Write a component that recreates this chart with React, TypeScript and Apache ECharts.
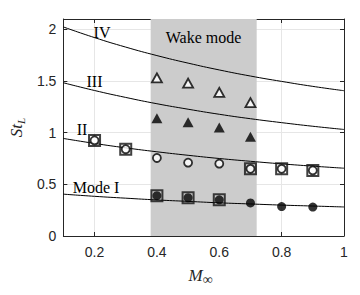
import React, { useEffect, useRef } from "react";
import * as echarts from "echarts";

// Theoretical Rossiter mode curves (read at M = 0.1 ... 1.0)
const machGrid = [0.1, 0.2, 0.3, 0.4, 0.5, 0.6, 0.7, 0.8, 0.9, 1.0];
const modeI = [0.405, 0.384, 0.366, 0.349, 0.335, 0.321, 0.31, 0.299, 0.29, 0.281];
const modeII = [0.944, 0.896, 0.853, 0.815, 0.781, 0.75, 0.723, 0.698, 0.676, 0.656];
const modeIII = [1.483, 1.408, 1.341, 1.28, 1.227, 1.178, 1.135, 1.097, 1.062, 1.031];
const modeIV = [2.023, 1.92, 1.828, 1.746, 1.673, 1.607, 1.548, 1.496, 1.448, 1.406];

// Measured peaks
const wakeMach = [0.4, 0.5, 0.6, 0.7];
const openTriangles = [1.53, 1.48, 1.39, 1.29];
const filledTriangles = [1.14, 1.1, 1.05, 0.96];
const openCircleMach = [0.2, 0.3, 0.4, 0.5, 0.6, 0.7, 0.8, 0.9];
const openCircles = [0.925, 0.84, 0.755, 0.71, 0.7, 0.65, 0.65, 0.635];
const filledCircleMach = [0.4, 0.5, 0.6, 0.7, 0.8, 0.9];
const filledCircles = [0.39, 0.37, 0.35, 0.32, 0.285, 0.28];
const squareMach = [0.2, 0.3, 0.4, 0.5, 0.6, 0.7, 0.8, 0.9];
const squares = [0.925, 0.84, 0.39, 0.37, 0.35, 0.65, 0.65, 0.635];

const wakeRange = [0.38, 0.72];
const xTicks = [0.2, 0.4, 0.6, 0.8, 1];

const zip = (xs: number[], ys: number[]) => xs.map((x, i) => [x, ys[i]]);

const SERIF = "'Liberation Serif', 'DejaVu Serif', serif";
const SANS = "'Liberation Sans', Arial, sans-serif";
const AX = "#262626";

export default function App() {
  const ref = useRef<HTMLDivElement>(null);
  useEffect(() => {
    if (!ref.current) return;
    const chart = echarts.init(ref.current, undefined, { renderer: "svg" });
    const curve = (data: number[]) => ({
      type: "line",
      data: zip(machGrid, data),
      smooth: true,
      showSymbol: false,
      symbol: "none",
      lineStyle: { color: "#000", width: 1 },
      z: 3,
      silent: true,
    });
    const tickCommon = { inside: true, length: 4, lineStyle: { color: AX } };
    chart.setOption({
      animation: false,
      backgroundColor: "#fff",
      grid: { left: 63, right: 16, top: 19, bottom: 59 },
      xAxis: [
        {
          type: "value",
          min: 0.1,
          max: 1,
          position: "bottom",
          axisLine: { lineStyle: { color: AX, width: 1 } },
          axisTick: { ...tickCommon, customValues: xTicks },
          axisLabel: {
            customValues: xTicks,
            color: AX,
            fontFamily: SANS,
            fontSize: 14,
            margin: 9,
          },
          splitLine: { show: true, lineStyle: { color: "#e6e6e6", width: 1 } },
          name: "{a|M}{b|∞}",
          nameLocation: "middle",
          nameGap: 28,
          nameTextStyle: {
            padding: [0, 6, 0, 0],
            rich: {
              a: { fontFamily: SERIF, fontStyle: "italic", fontSize: 17, color: AX },
              b: { fontFamily: SERIF, fontSize: 14, color: AX, padding: [8, 0, 0, 0] },
            },
          },
        },
        {
          type: "value",
          min: 0.1,
          max: 1,
          position: "top",
          axisLine: { show: true, onZero: false, lineStyle: { color: AX, width: 1 } },
          axisTick: { ...tickCommon, customValues: xTicks },
          axisLabel: { show: false },
          splitLine: { show: false },
        },
      ],
      yAxis: [
        {
          type: "value",
          min: 0,
          max: 2.1,
          interval: 0.5,
          axisLine: { show: true, lineStyle: { color: AX, width: 1 } },
          axisTick: { show: true, ...tickCommon },
          axisLabel: {
            color: AX,
            fontFamily: SANS,
            fontSize: 14,
            margin: 7,
            showMaxLabel: false,
          },
          splitLine: { show: true, lineStyle: { color: "#e6e6e6", width: 1 } },
          name: "{a|St}{b|L}",
          nameLocation: "middle",
          nameGap: 23,
          nameRotate: 90,
          nameTextStyle: {
            padding: [0, 0, 0, 0],
            rich: {
              a: { fontFamily: SERIF, fontStyle: "italic", fontSize: 17, color: AX },
              b: { fontFamily: SERIF, fontStyle: "italic", fontSize: 11, color: AX, padding: [8, 0, 0, 0] },
            },
          },
        },
        {
          type: "value",
          min: 0,
          max: 2.1,
          interval: 0.5,
          position: "right",
          axisLine: { show: true, onZero: false, lineStyle: { color: AX, width: 1 } },
          axisTick: { show: true, ...tickCommon },
          axisLabel: { show: false },
          splitLine: { show: false },
        },
      ],
      series: [
        {
          type: "line",
          data: [],
          z: 1,
          silent: true,
          markArea: {
            silent: true,
            itemStyle: { color: "#cccccc" },
            data: [[{ xAxis: wakeRange[0], yAxis: 0 }, { xAxis: wakeRange[1], yAxis: 2.1 }]],
          },
        },
        curve(modeI),
        curve(modeII),
        curve(modeIII),
        curve(modeIV),
        {
          type: "scatter",
          data: zip(squareMach, squares),
          symbol: "rect",
          symbolSize: 11,
          itemStyle: { color: "rgba(0,0,0,0)", borderColor: "#111", borderWidth: 2 },
          z: 4,
        },
        {
          type: "scatter",
          data: zip(openCircleMach, openCircles),
          symbol: "circle",
          symbolSize: 8,
          itemStyle: { color: "#fff", borderColor: "#000", borderWidth: 1.8 },
          z: 5,
        },
        {
          type: "scatter",
          data: zip(filledCircleMach, filledCircles),
          symbol: "circle",
          symbolSize: 9,
          itemStyle: { color: "#000" },
          z: 5,
        },
        {
          type: "scatter",
          data: zip(wakeMach, openTriangles),
          symbol: "triangle",
          symbolSize: [10, 9],
          itemStyle: { color: "#fff", borderColor: "#000", borderWidth: 1.8 },
          z: 5,
        },
        {
          type: "scatter",
          data: zip(wakeMach, filledTriangles),
          symbol: "triangle",
          symbolSize: [11, 10],
          itemStyle: { color: "#000" },
          z: 5,
        },
      ],
      graphic: [
        { type: "text", x: 102, y: 32, z: 10, style: { text: "IV", font: `16px ${SERIF}`, fill: "#000", align: "center", verticalAlign: "middle" } },
        { type: "text", x: 94.5, y: 81, z: 10, style: { text: "III", font: `16px ${SERIF}`, fill: "#000", align: "center", verticalAlign: "middle" } },
        { type: "text", x: 82, y: 129, z: 10, style: { text: "II", font: `16px ${SERIF}`, fill: "#000", align: "center", verticalAlign: "middle" } },
        { type: "text", x: 96, y: 187, z: 10, style: { text: "Mode I", font: `16px ${SERIF}`, fill: "#000", align: "center", verticalAlign: "middle" } },
        { type: "text", x: 203.5, y: 37, z: 10, style: { text: "Wake mode", font: `16px ${SERIF}`, fill: "#000", align: "center", verticalAlign: "middle" } },
      ],
    });
    return () => chart.dispose();
  }, []);
  return (
    <div
      ref={ref}
      style={{ position: "fixed", left: 0, top: 0, width: 360, height: 295, background: "#fff" }}
    />
  );
}
